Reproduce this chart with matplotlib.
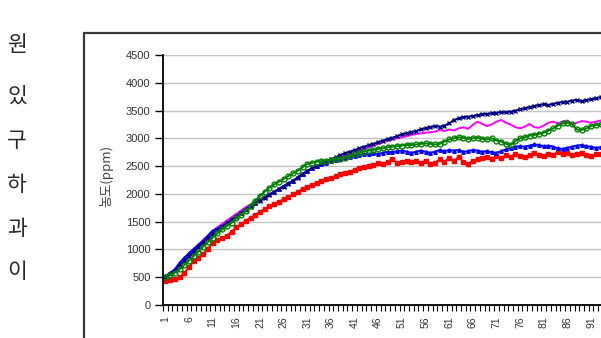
import matplotlib
matplotlib.use("Agg")
import matplotlib.pyplot as plt
from matplotlib.patches import Rectangle

plt.rcParams["font.family"] = ["Liberation Sans", "DejaVu Sans"]

navy = [
    500, 550, 610, 700, 790, 880, 960, 1040, 1120, 1200,
    1280, 1350, 1410, 1470, 1530, 1590, 1650, 1710, 1770, 1830,
    1880, 1930, 1980, 2030, 2080, 2130, 2180, 2230, 2290, 2350,
    2410, 2460, 2500, 2540, 2580, 2620, 2660, 2700, 2730, 2760,
    2790, 2820, 2850, 2880, 2900, 2930, 2960, 2990, 3010, 3040,
    3070, 3090, 3110, 3130, 3160, 3180, 3200, 3220, 3210, 3230,
    3270, 3330, 3360, 3380, 3390, 3400, 3420, 3430, 3440, 3450,
    3460, 3470, 3470, 3480, 3500, 3520, 3540, 3560, 3580, 3600,
    3610, 3600, 3620, 3640, 3650, 3660, 3680, 3690, 3670, 3690,
    3700, 3720, 3740, 3750, 3740, 3760,
]
magenta = [
    510, 560, 640, 740, 840, 930, 1010, 1090, 1170, 1250,
    1330, 1400, 1460, 1520, 1580, 1640, 1700, 1760, 1810, 1860,
    1910, 1950, 1990, 2040, 2090, 2140, 2190, 2240, 2290, 2340,
    2400, 2450, 2490, 2530, 2570, 2600, 2630, 2660, 2690, 2720,
    2750, 2780, 2810, 2840, 2870, 2900, 2930, 2960, 2980, 3000,
    3020, 3040, 3060, 3080, 3090, 3100, 3110, 3120, 3150, 3130,
    3160, 3140, 3180, 3200, 3170, 3240, 3300, 3260, 3220, 3250,
    3300, 3330, 3280, 3250, 3200, 3180, 3210, 3260, 3200, 3190,
    3230, 3280, 3300, 3270, 3300, 3320, 3260, 3280, 3310, 3300,
    3280, 3300, 3320, 3300, 3290, 3310,
]
green = [
    500, 540, 580, 640, 720, 800, 880, 960, 1050, 1130,
    1210, 1290, 1360, 1420, 1480, 1560, 1620, 1700, 1780, 1880,
    1960, 2040, 2110, 2170, 2220, 2270, 2320, 2370, 2420, 2480,
    2540, 2560, 2580, 2590, 2600, 2610, 2620, 2630, 2650, 2680,
    2710, 2740, 2760, 2780, 2790, 2810, 2820, 2840, 2850, 2860,
    2870, 2880, 2880, 2890, 2900, 2910, 2900, 2890, 2900, 2940,
    2980, 3000, 3020, 3010, 2990, 3000, 3010, 2990, 2980, 3000,
    2960, 2940, 2900, 2880, 2950, 3000, 3020, 3050, 3060, 3080,
    3100, 3140, 3180, 3230, 3270, 3280, 3250, 3160, 3150, 3180,
    3220, 3240, 3250, 3260, 3250, 3240,
]
blue = [
    520, 580, 640, 760, 850, 930, 1010, 1080, 1160, 1250,
    1340, 1370, 1420, 1480, 1540, 1600, 1660, 1730, 1790, 1840,
    1890, 1940, 1990, 2040, 2090, 2140, 2190, 2240, 2300, 2360,
    2420, 2460, 2500, 2530, 2560, 2590, 2610, 2630, 2650, 2670,
    2690, 2700, 2710, 2720, 2730, 2720, 2740, 2760, 2750, 2770,
    2780, 2760, 2740, 2760, 2780, 2760, 2740, 2760, 2790, 2770,
    2790, 2780, 2790, 2760, 2770, 2790, 2780, 2760, 2770, 2750,
    2740, 2770, 2800, 2830, 2850, 2860, 2850, 2870, 2890, 2880,
    2860, 2870, 2850, 2820, 2810, 2830, 2850, 2870, 2880, 2860,
    2850, 2830, 2840, 2860, 2850, 2840,
]
red = [
    440, 450, 470, 500, 580, 680, 790, 850, 920, 1010,
    1120, 1170, 1200, 1250, 1320, 1400, 1450, 1520, 1570, 1620,
    1680, 1730, 1780, 1820, 1860, 1900, 1940, 1990, 2040, 2090,
    2130, 2160, 2200, 2230, 2260, 2290, 2320, 2350, 2380, 2400,
    2430, 2460, 2480, 2500, 2520, 2560, 2540, 2580, 2620, 2560,
    2580, 2600, 2570, 2590, 2560, 2600, 2540, 2560, 2620, 2580,
    2640, 2600, 2660, 2580, 2540, 2600, 2620, 2640, 2660, 2620,
    2680, 2640, 2700, 2660, 2720, 2680, 2660, 2700, 2740, 2700,
    2680, 2720, 2700, 2760, 2720, 2740, 2700, 2720, 2740, 2700,
    2680, 2710, 2720, 2700, 2690, 2700,
]

n_cat = 100
y_ticks = list(range(0, 5000, 500))
x_labels = list(range(1, 92, 5))  # labels further right fall outside the crop
side_text = ["원", "있", "구", "하", "과", "이"]
side_y = [45, 97, 141, 185, 229, 272]

W, H = 601, 338
fig = plt.figure(figsize=(W / 100, H / 100), dpi=100)

# outer chart frame, runs off the right/bottom edge like the crop
fig.patches.append(Rectangle((84 / W, -0.2), 1.2, 0.2 + (H - 33) / H,
                             transform=fig.transFigure, fill=False,
                             edgecolor="#3a3a3a", linewidth=1.6))

ax = fig.add_axes([163 / W, (H - 305) / H, n_cat * 4.73 / W, 250 / H])

series = [
    (magenta, "#ff00ff", None, {}),
    (red, "#ff0000", "s", dict(ms=2.5)),
    (blue, "#0000ff", "^", dict(ms=2.5)),
    (navy, "#000080", "x", dict(ms=3, mew=1)),
    (green, "#008000", "o", dict(ms=3.5, mfc="none", mew=1)),
]
for vals, col, mk, kw in series:
    xs = range(1, len(vals) + 1)
    ax.plot(xs, vals, color=col, lw=1.4, marker=mk, **kw)

ax.set_xlim(0.5, n_cat + 0.5)
ax.set_ylim(0, 4500)
ax.set_yticks(y_ticks)
ax.set_yticklabels([str(v) for v in y_ticks], fontsize=8, color="#333333")
ax.set_xticks(x_labels)
ax.set_xticklabels([str(v) for v in x_labels], rotation=90, fontsize=7.5,
                   color="#333333", va="top")
ax.set_xticks([i + 0.5 for i in range(n_cat + 1)], minor=True)
ax.tick_params(axis="x", which="major", length=0, pad=8)
ax.tick_params(axis="x", which="minor", length=4, width=0.8, direction="out")
ax.tick_params(axis="y", length=6, width=1, direction="out", pad=3)

ax.yaxis.grid(True, color="#c4c4c4", lw=1)
ax.set_axisbelow(True)
for s in ("top", "right"):
    ax.spines[s].set_visible(False)
for s in ("left", "bottom"):
    ax.spines[s].set_linewidth(1.4)
    ax.spines[s].set_color("#111111")

fig.text(106 / W, 1 - 176 / H, "농도(ppm)", rotation=90, ha="center",
         va="center", fontsize=9.5, color="#444444",
         family=["Noto Sans CJK KR", "DejaVu Sans"])

for ch, yy in zip(side_text, side_y):
    fig.text(17 / W, 1 - yy / H, ch, ha="center", va="center", fontsize=15.5,
             color="#2a2a2a", family=["Noto Sans CJK KR", "DejaVu Sans"])

fig.savefig("out.png", dpi=100)
